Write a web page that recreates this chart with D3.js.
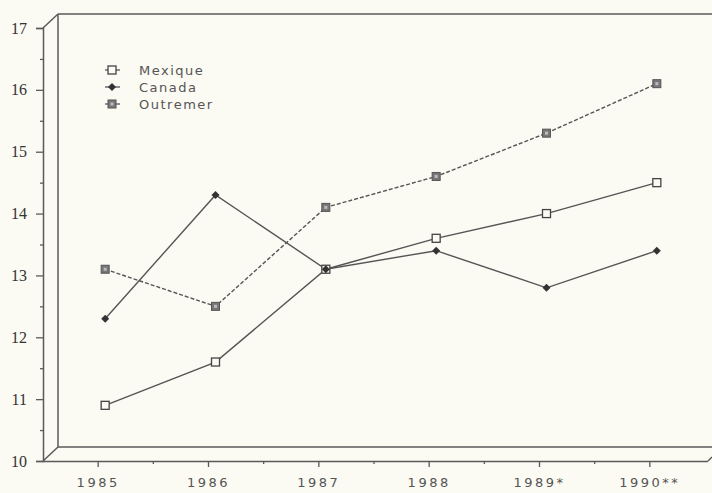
<!DOCTYPE html>
<html><head><meta charset="utf-8">
<script src="https://cdn.jsdelivr.net/npm/d3@7"></script>
<style>
html,body{margin:0;padding:0;background:#fbfaf3;}
svg{display:block;}
text{-webkit-font-smoothing:antialiased;}
</style></head>
<body>
<svg id="c" width="712" height="493"></svg>
<script>
const years = ["1985","1986","1987","1988","1989*","1990**"];
const mexique  = [10.9, 11.6, 13.1, 13.6, 14.0, 14.5];
const canada   = [12.3, 14.3, 13.1, 13.4, 12.8, 13.4];
const outremer = [13.1, 12.5, 14.1, 14.6, 15.3, 16.1];
const seriesNames = ["Mexique","Canada","Outremer"];
const yTicks = [10,11,12,13,14,15,16,17];

const svg = d3.select("#c");
const ink = "#5a5a5a";
const x0 = 43, x1 = 705, yTop = 28, yBot = 461, dx = 15, dy = -14;

const x = d3.scaleBand().domain(years).range([x0, x1]).paddingInner(0).paddingOuter(0);
const y = d3.scaleLinear().domain([10,17]).range([yBot, yTop]);

svg.append("rect").attr("width",712).attr("height",493).attr("fill","#fbfaf3");

// 3D frame (back wall)
const g = svg.append("g").attr("stroke", ink).attr("stroke-width", 1.5).attr("fill","none");
g.append("line").attr("x1", x0+dx).attr("y1", y(17)+dy).attr("x2", 712).attr("y2", y(17)+dy);
g.append("line").attr("x1", x0+dx).attr("y1", y(17)+dy).attr("x2", x0+dx).attr("y2", y(10)+dy);
g.append("line").attr("x1", x0+dx).attr("y1", y(10)+dy).attr("x2", 712).attr("y2", y(10)+dy);
g.append("line").attr("x1", x0).attr("y1", y(17)).attr("x2", x0+dx).attr("y2", y(17)+dy);
g.append("line").attr("x1", x0).attr("y1", y(10)).attr("x2", x0+dx).attr("y2", y(10)+dy);
g.append("line").attr("x1", 708).attr("y1", y(10)).attr("x2", 712).attr("y2", y(10)-4);

// Y axis
const yAxis = svg.append("g").attr("transform", `translate(${x0},0)`)
  .call(d3.axisLeft(y).tickValues(yTicks).tickSize(7).tickPadding(9).tickFormat(d3.format("d")));
const yMinor = svg.append("g").attr("transform", `translate(${x0},0)`)
  .call(d3.axisLeft(y).tickValues(d3.range(10.5,17,1)).tickSize(3).tickFormat(""));
[yAxis,yMinor].forEach(a=>{
  a.select(".domain").attr("stroke", ink).attr("stroke-width",1.5);
  a.selectAll(".tick line").attr("stroke", ink).attr("stroke-width",1.3);
});
yMinor.select(".domain").remove();
yAxis.selectAll("text").attr("fill","#333").attr("font-family","'Liberation Serif', serif")
  .attr("font-size",16);

// X axis
const xAxis = svg.append("g").attr("transform", `translate(0,${yBot})`)
  .call(d3.axisBottom(x).tickSize(6).tickPadding(11).tickSizeOuter(0));
xAxis.select(".domain").attr("d", `M${x0},0.5H708`).attr("stroke", ink).attr("stroke-width",1.5);
xAxis.selectAll(".tick line").attr("stroke", ink).attr("stroke-width",1.3);
xAxis.selectAll("text").attr("fill","#555").attr("font-family","'DejaVu Sans', sans-serif")
  .attr("font-size",13).attr("letter-spacing","2.5px");
// minor x ticks at band boundaries
const bounds = years.slice(1).map(d => x(d));
svg.append("g").selectAll("line").data(bounds).join("line")
  .attr("x1", d=>d).attr("x2", d=>d).attr("y1", yBot).attr("y2", yBot+3)
  .attr("stroke", ink).attr("stroke-width",1.3);

// Series
const off = 7;
const px = d => x(d) + x.bandwidth()/2 + off;
const line = d3.line().x((v,i)=>px(years[i])).y(v=>y(v));
const data = [
  {name:"Mexique", vals:mexique, dash:null},
  {name:"Canada", vals:canada, dash:null},
  {name:"Outremer", vals:outremer, dash:"4,2"}
];
data.forEach(s=>{
  svg.append("path").datum(s.vals).attr("d", line).attr("fill","none")
    .attr("stroke","#555").attr("stroke-width",1.4).attr("stroke-dasharray", s.dash);
});

function marker(sel, name, cx, cy){
  if(name==="Mexique"){
    sel.append("rect").attr("x",cx-4).attr("y",cy-4).attr("width",8).attr("height",8)
      .attr("fill","#fbfaf3").attr("stroke","#444").attr("stroke-width",1.3);
  } else if(name==="Canada"){
    sel.append("path").attr("d",`M${cx},${cy-4}L${cx+4},${cy}L${cx},${cy+4}L${cx-4},${cy}Z`)
      .attr("fill","#333");
  } else {
    sel.append("rect").attr("x",cx-4).attr("y",cy-4).attr("width",8).attr("height",8)
      .attr("fill","#777").attr("stroke","#555").attr("stroke-width",1);
    sel.append("rect").attr("x",cx-1.5).attr("y",cy-1.5).attr("width",3).attr("height",3)
      .attr("fill","#bbb");
  }
}
const mg = svg.append("g");
data.forEach(s=>{
  s.vals.forEach((v,i)=> marker(mg, s.name, px(years[i]), y(v)));
});

// Legend
const lg = svg.append("g");
seriesNames.forEach((n,i)=>{
  const ly = 70 + i*17;
  lg.append("line").attr("x1",105).attr("x2",120).attr("y1",ly).attr("y2",ly)
    .attr("stroke","#555").attr("stroke-width",1.3);
  marker(lg, n, 112, ly);
  lg.append("text").attr("x",139).attr("y",ly+5).text(n)
    .attr("fill","#555").attr("font-family","'DejaVu Sans', sans-serif")
    .attr("font-size",13).attr("letter-spacing","1.5px");
});
</script>
</body></html>
